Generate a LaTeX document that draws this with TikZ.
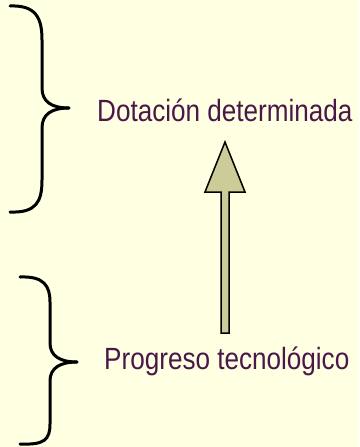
\documentclass[tikz,border=0pt]{standalone}
\usepackage{fontspec}
\setmainfont{Liberation Sans}[FakeStretch=0.85]
\usetikzlibrary{calc}
\definecolor{fondo}{HTML}{FFFFE1}
\definecolor{texto}{HTML}{4A1848}
\definecolor{flecha}{HTML}{CCCC99}
\tikzset{
    llave/.style={line width=3pt, line cap=round},
    etiqueta/.style={text=texto, font=\fontsize{30.7}{36}\selectfont, inner sep=0pt, anchor=base west}
}
\begin{document}
\begin{tikzpicture}[x=1pt,y=-1pt]
    \fill[fondo] (0,0) rectangle (359,447);
    \useasboundingbox (0,0) rectangle (359,447);

    % llave de arriba
    \draw[llave] (10,6) .. controls (36,5) and (42,18) .. (42,40) -- (42,88) .. controls (42,102) and (52,108) .. (69,108);
    \draw[llave] (69,108) .. controls (52,108) and (42,114) .. (42,128) -- (42,180) .. controls (42,202) and (36,213) .. (10,212);

    % llave de abajo
    \draw[llave] (20,277) .. controls (44,276) and (50,286) .. (50,302) -- (50,343) .. controls (50,356) and (60,362) .. (77,362);
    \draw[llave] (77,362) .. controls (60,362) and (50,368) .. (50,381) -- (50,424) .. controls (50,440) and (44,445) .. (20,444);

    \node[etiqueta] (dotacion) at (97,121) {Dotación determinada};
    \node[etiqueta] (progreso) at (104,369) {Progreso tecnológico};

    % flecha
    \coordinate (base) at (225,333);
    \coordinate (punta) at (225,142);
    \filldraw[fill=flecha, line width=1.5pt, line join=miter]
        ($(base)+(-4,0)$) -- ($(base)+(4,0)$) -- ($(punta)+(4,50)$) -- ($(punta)+(20,50)$)
        -- (punta) -- ($(punta)+(-20,50)$) -- ($(punta)+(-4,50)$) -- cycle;
\end{tikzpicture}
\end{document}
